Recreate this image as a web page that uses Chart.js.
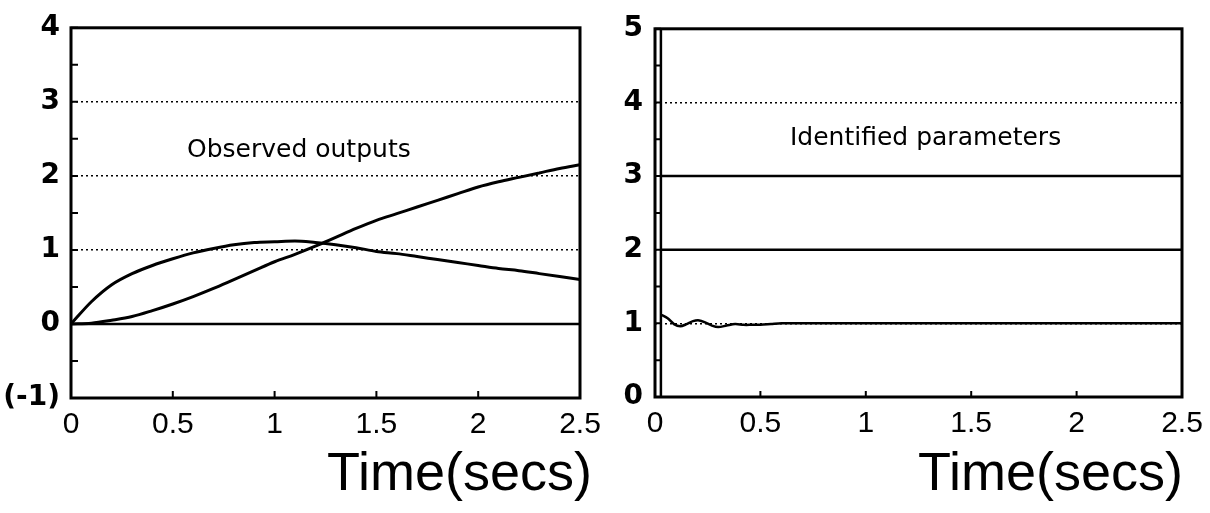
<!DOCTYPE html>
<html><head><meta charset="utf-8">
<script src="https://cdn.jsdelivr.net/npm/chart.js@4.4.0/dist/chart.umd.min.js"></script>
<style>
html,body{margin:0;padding:0;background:#fff;}
#wrap{position:relative;width:1210px;height:513px;background:#fff;}
.box{position:absolute;top:0;width:605px;height:513px;}
</style></head><body>
<div id="wrap">
<div class="box" style="left:0"><canvas id="c1" width="605" height="513"></canvas></div>
<div class="box" style="left:605px"><canvas id="c2" width="605" height="513"></canvas></div>
</div>
<script>
// ---- data (left panel: observed outputs) ----
const outputTime = [0,0.1,0.2,0.3,0.4,0.5,0.6,0.7,0.8,0.9,1.0,1.1,1.2,1.3,1.4,1.5,1.6,1.7,1.8,1.9,2.0,2.1,2.2,2.3,2.4,2.5];
const outputFast = [0,0.30,0.53,0.68,0.79,0.88,0.96,1.02,1.07,1.10,1.11,1.12,1.10,1.07,1.03,0.98,0.95,0.91,0.87,0.83,0.79,0.75,0.72,0.68,0.64,0.60];
const outputSlow = [0,0.01,0.05,0.10,0.18,0.27,0.37,0.48,0.60,0.72,0.84,0.94,1.05,1.17,1.29,1.40,1.49,1.58,1.67,1.76,1.85,1.92,1.98,2.04,2.10,2.15];
const outputZero = [0,0,0,0,0,0,0,0,0,0,0,0,0,0,0,0,0,0,0,0,0,0,0,0,0,0];

// ---- data (right panel: identified parameters) ----
const paramTime = [0.028,0.06,0.09,0.12,0.15,0.18,0.21,0.24,0.27,0.30,0.34,0.38,0.42,0.46,0.50,0.55,0.60,0.70,2.5];
const paramA = [3,3,3,3,3,3,3,3,3,3,3,3,3,3,3,3,3,3,3];
const paramB = [2,2,2,2,2,2,2,2,2,2,2,2,2,2,2,2,2,2,2];
const paramC = [1.12,1.07,0.99,0.96,0.99,1.03,1.04,1.01,0.97,0.95,0.97,0.99,0.98,0.98,0.98,0.99,1.0,1.0,1.0];
const jumpTime = [0.028,0.028];
const jumpValue = [0,5];

// ---- tick labels ----
const xTickValues = [0,0.5,1,1.5,2,2.5];
const xTickLabels = ['0','0.5','1','1.5','2','2.5'];
const leftYValues = [-1,0,1,2,3,4];
const leftYLabels = ['(-1)','0','1','2','3','4'];
const rightYValues = [0,1,2,3,4,5];
const rightYLabels = ['0','1','2','3','4','5'];

const pts = (xs, ys) => xs.map((x,i)=>({x:x, y:ys[i]}));

const decor = {
  id:'decor',
  afterDatasetsDraw(chart, args, o){
    const {ctx, chartArea:a, scales:{x,y}} = chart;
    ctx.save();
    ctx.strokeStyle='#000';
    ctx.lineWidth=2;
    ctx.beginPath();
    y.ticks.forEach(t=>{const py=y.getPixelForValue(t.value); ctx.moveTo(a.left,py); ctx.lineTo(a.left+o.tickLen,py);});
    x.ticks.forEach(t=>{const px=x.getPixelForValue(t.value); ctx.moveTo(px,a.bottom); ctx.lineTo(px,a.bottom-o.tickLen);});
    ctx.stroke();
    ctx.lineWidth=o.frameWidth;
    ctx.strokeRect(a.left,a.top,a.right-a.left,a.bottom-a.top);
    ctx.fillStyle='#000';
    ctx.font='25px "DejaVu Sans", sans-serif';
    ctx.textAlign='left'; ctx.textBaseline='alphabetic';
    ctx.fillText(o.label, a.left+o.labelDx, a.top+o.labelDy);
    ctx.font='54px "Liberation Sans", Arial, sans-serif';
    ctx.textAlign='right';
    ctx.fillText('Time(secs)', a.right+o.titleDx, o.titleY);
    ctx.restore();
  }
};

function lineDs(data, w, tension){
  return {data:data, showLine:true, borderColor:'#000', borderWidth:w, pointRadius:0,
          tension: tension||0, cubicInterpolationMode: tension? 'default':'monotone', fill:false};
}

function makeChart(id, datasets, yMin, yMax, yVals, yLabels, lay, deco){
  return new Chart(document.getElementById(id), {
    type:'scatter',
    data:{datasets:datasets},
    options:{
      responsive:false, animation:false,
      layout:{padding:{left:0,right:lay.right,top:lay.top,bottom:0}},
      plugins:{legend:{display:false}, tooltip:{enabled:false}, decor:deco},
      scales:{
        x:{type:'linear', min:0, max:2.5,
           ticks:{stepSize:0.5, autoSkip:false, maxRotation:0, color:'#000', padding:lay.xPad,
                  font:{family:'"Liberation Sans", Arial, sans-serif', size:30},
                  callback:(v)=>{const i=xTickValues.indexOf(v); return i>=0?xTickLabels[i]:'';}},
           grid:{display:false}, border:{display:false},
           afterFit:(s)=>{s.height=lay.xH;}},
        y:{type:'linear', min:yMin, max:yMax,
           ticks:{stepSize:0.5, autoSkip:false, color:'#000', padding:lay.yPad,
                  font:{family:'"DejaVu Sans", sans-serif', size:28, weight:'bold'},
                  callback:(v)=>{const i=yVals.indexOf(v); return i>=0?yLabels[i]:'';}},
           grid:{drawTicks:false, lineWidth:1.5,
                 color:(c)=>{const v=c.tick&&c.tick.value; return (Number.isInteger(v)&&v>yMin&&v<yMax)?'#000':'rgba(0,0,0,0)';}},
           border:{display:false, dash:[2,3]},
           afterFit:(s)=>{s.width=lay.yW;}}
      }
    },
    plugins:[decor]
  });
}

makeChart('c1', [
  lineDs(pts(outputTime, outputZero), 2.5),
  lineDs(pts(outputTime, outputFast), 3),
  lineDs(pts(outputTime, outputSlow), 3)
], -1, 4, leftYValues, leftYLabels,
{right:25, top:23, xH:115, yW:71, xPad:1, yPad:11},
{tickLen:7, frameWidth:3, label:'Observed outputs', labelDx:116, labelDy:129, titleDx:12, titleY:490});

makeChart('c2', [
  lineDs(pts(paramTime, paramA), 2.5),
  lineDs(pts(paramTime, paramB), 2.5),
  lineDs(pts(paramTime, paramC), 2.5, 0.3),
  lineDs(pts(jumpTime, jumpValue), 2.5)
], 0, 5, rightYValues, rightYLabels,
{right:28, top:19, xH:116, yW:50, xPad:1, yPad:12},
{tickLen:6, frameWidth:3, label:'Identified parameters', labelDx:135, labelDy:116, titleDx:1, titleY:490});
</script>
</body></html>
